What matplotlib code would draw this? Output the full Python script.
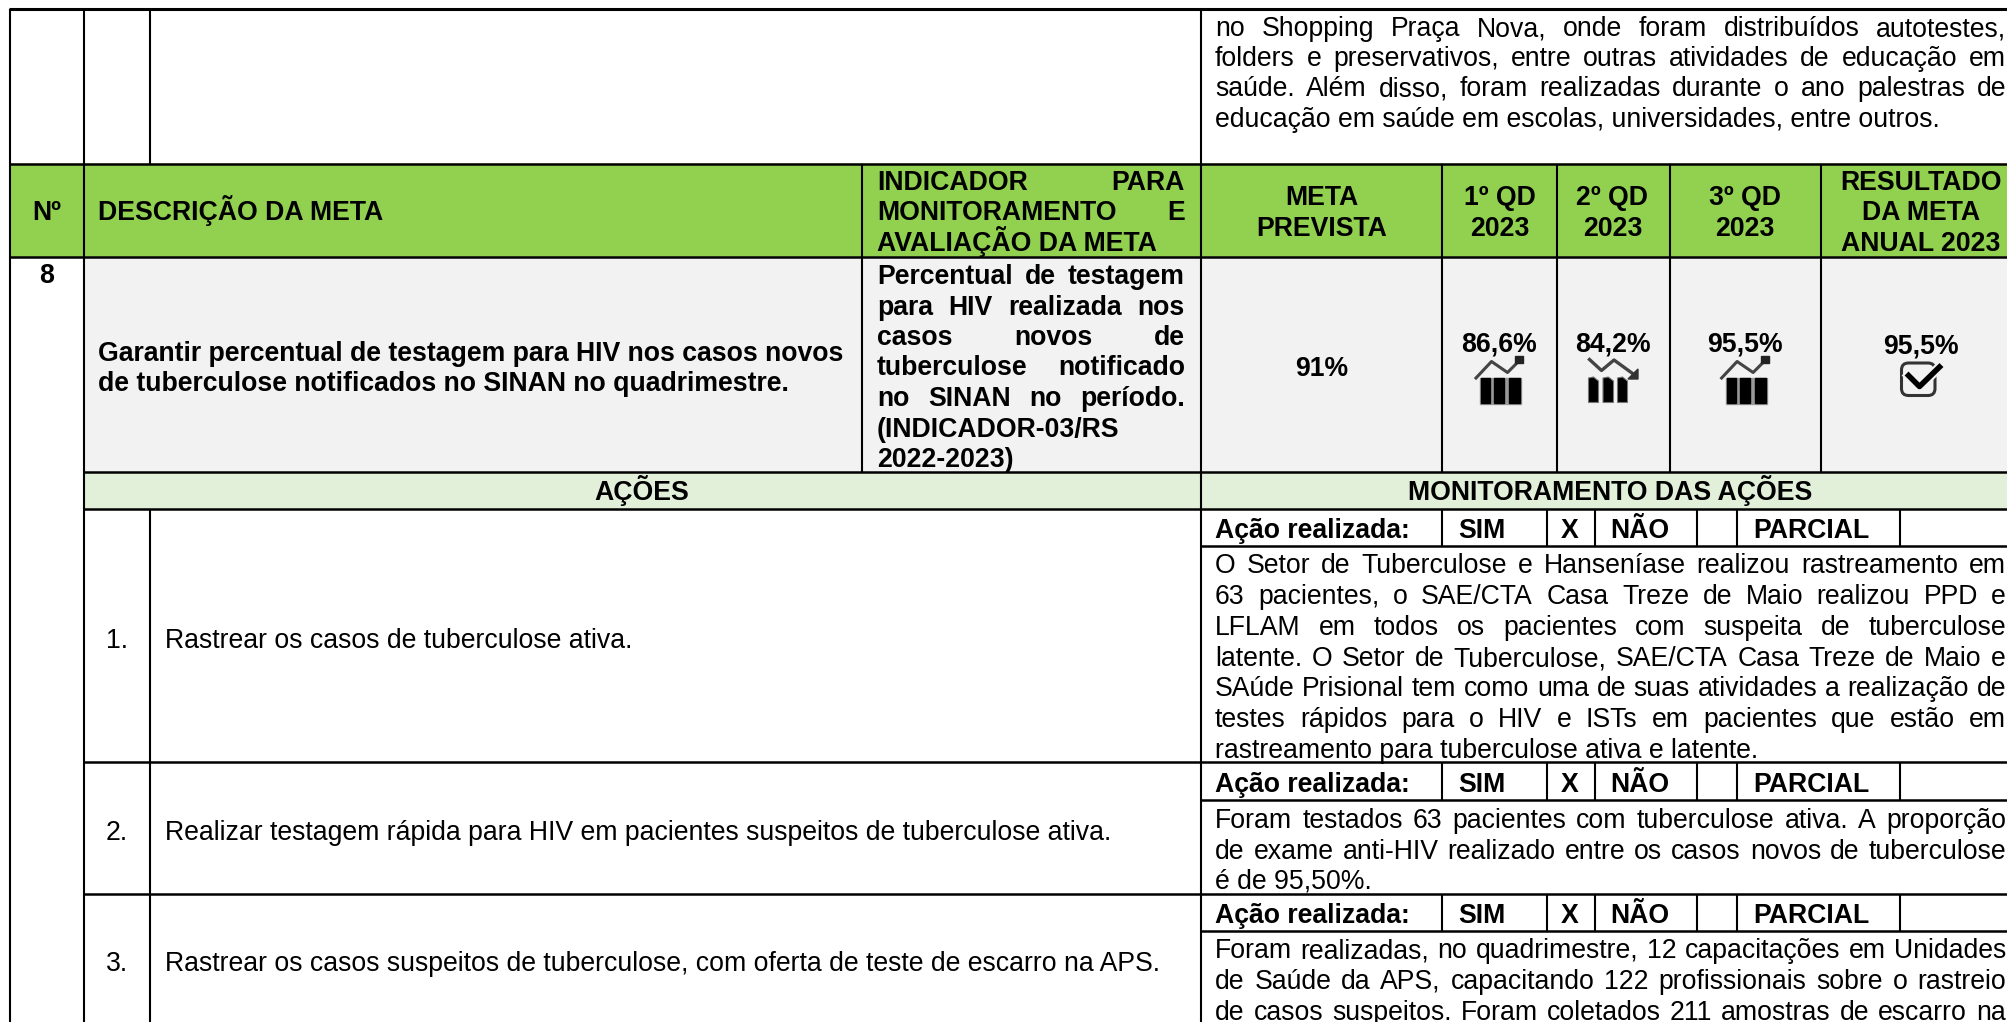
import matplotlib
matplotlib.use('Agg')
import matplotlib.pyplot as plt
from matplotlib.patches import Rectangle, FancyBboxPatch, Polygon

plt.rcParams['font.family'] = ['Liberation Sans', 'DejaVu Sans']

# texts
top_lines = ['no Shopping Praça Nova, onde foram distribuídos autotestes,',
             'folders e preservativos, entre outras atividades de educação em',
             'saúde. Além disso, foram realizadas durante o ano palestras de',
             'educação em saúde em escolas, universidades, entre outros.']
ind_head = ['INDICADOR PARA', 'MONITORAMENTO E', 'AVALIAÇÃO DA META']
ind_body = ['Percentual de testagem', 'para HIV realizada nos', 'casos novos de',
            'tuberculose notificado', 'no SINAN no período.', '(INDICADOR-03/RS', '2022-2023)']
goal_lines = ['Garantir percentual de testagem para HIV nos casos novos',
              'de tuberculose notificados no SINAN no quadrimestre.']
head_cols = [['META', 'PREVISTA'], ['1º QD', '2023'], ['2º QD', '2023'], ['3º QD', '2023'],
             ['RESULTADO', 'DA META', 'ANUAL 2023']]
meta_prevista = '91%'
qd_values = ['86,6%', '84,2%', '95,5%']
resultado = '95,5%'
acao_nums = ['1.', '2.', '3.']
acao_texts = ['Rastrear os casos de tuberculose ativa.',
              'Realizar testagem rápida para HIV em pacientes suspeitos de tuberculose ativa.',
              'Rastrear os casos suspeitos de tuberculose, com oferta de teste de escarro na APS.']
mon_1 = ['O Setor de Tuberculose e Hanseníase realizou rastreamento em',
         '63 pacientes, o SAE/CTA Casa Treze de Maio realizou PPD e',
         'LFLAM em todos os pacientes com suspeita de tuberculose',
         'latente. O Setor de Tuberculose, SAE/CTA Casa Treze de Maio e',
         'SAúde Prisional tem como uma de suas atividades a realização de',
         'testes rápidos para o HIV e ISTs em pacientes que estão em',
         'rastreamento para tuberculose ativa e latente.']
mon_2 = ['Foram testados 63 pacientes com tuberculose ativa. A proporção',
         'de exame anti-HIV realizado entre os casos novos de tuberculose',
         'é de 95,50%.']
mon_3 = ['Foram realizadas, no quadrimestre, 12 capacitações em Unidades',
         'de Saúde da APS, capacitando 122 profissionais sobre o rastreio',
         'de casos suspeitos. Foram coletados 211 amostras de escarro na']

# layout in image pixels
W, H = 2008, 1022
FS = 19.2
GREEN, GRAY, LIGHT = '#92D050', '#F2F2F2', '#E2EFD9'
head_cx = [1321.5, 1499.5, 1612.5, 1745, 1921]

fig = plt.figure(figsize=(W/100, H/100), dpi=100, facecolor='white')
ax = fig.add_axes([0, 0, 1, 1])
ax.set_xlim(0, W)
ax.set_ylim(H, 0)
ax.axis('off')
rend = fig.canvas.get_renderer()


def put(x, y, s, bold=False, ha='left'):
    # y is the middle of the line, text sits on a baseline below it
    return ax.text(x, y+9, s, fontsize=FS, fontweight='bold' if bold else 'normal',
                   ha=ha, va='baseline', color='black', zorder=5)


def justified(x0, x1, y, s, bold=False):
    words = s.split(' ')
    arts = [put(x0, y, w, bold) for w in words]
    widths = [a.get_window_extent(rend).width for a in arts]
    gap = (x1-x0-sum(widths))/(len(words)-1)
    x = x0
    for a, w in zip(arts, widths):
        a.set_x(x)
        x += w+gap


def hline(y, x0, x1, lw=1.8):
    ax.plot([x0, x1], [y, y], color='black', lw=lw, solid_capstyle='butt', zorder=4)


def vline(x, y0, y1, lw=1.5):
    ax.plot([x, x], [y0, y1], color='black', lw=lw, solid_capstyle='butt', zorder=4)


def rise_icon(dx):
    ax.plot([1476+dx, 1491.5+dx, 1507.5+dx, 1520+dx], [378, 361.5, 372.5, 360], color='#444444', lw=2.2, zorder=5)
    ax.add_patch(Rectangle((1515+dx, 356), 8.5, 7, color='#222222', zorder=5))
    ax.add_patch(Rectangle((1480+dx, 378), 41, 26, color='#999999', zorder=4))
    for bx, bw in [(1481, 9.5), (1494.5, 10), (1509.5, 10.5)]:
        ax.add_patch(Rectangle((bx+dx, 378), bw, 25.5, color='black', zorder=5))


def fall_icon():
    ax.plot([1589.5, 1601.5, 1614, 1634], [359.5, 370.5, 360, 374.5], color='#444444', lw=2.4, zorder=5)
    ax.add_patch(Polygon([[1638, 379], [1638, 369], [1628, 379]], color='#333333', zorder=5))
    for bx, bw in [(1588.5, 10), (1603, 10.5), (1617.5, 10)]:
        ax.add_patch(Polygon([[bx, 378], [bx+bw/2, 377], [bx+bw, 381], [bx+bw, 402.5], [bx, 402.5]],
                             fc='black', ec='#777777', lw=0.8, zorder=5))


def check_icon():
    ax.add_patch(FancyBboxPatch((1901.5, 363), 33.5, 32.5, boxstyle='round,pad=0,rounding_size=7',
                                fc='none', ec='#333333', lw=2.2, zorder=5))
    ax.plot([1908.5, 1919.5, 1939.5], [375.5, 386.5, 367], color=GRAY, lw=7, zorder=6)
    ax.plot([1908.5, 1919.5, 1939.5], [375.5, 386.5, 367], color='black', lw=4, zorder=6)


# fills
ax.add_patch(Rectangle((10, 164), W-10, 93, color=GREEN, zorder=1))
ax.add_patch(Rectangle((84, 257), W-84, 215, color=GRAY, zorder=1))
ax.add_patch(Rectangle((84, 472), W-84, 37, color=LIGHT, zorder=1))

# grid
hline(9, 9, W, 2.2)
hline(164, 9, W)
hline(257, 9, W)
hline(472, 84, W)
hline(509, 84, W)
hline(762, 84, W)
hline(894, 84, W)
for y in [546, 800, 931]:
    hline(y, 1201, W)
vline(10, 9, H)
vline(84, 9, H)
vline(150, 9, 164)
vline(150, 509, H)
vline(1201, 9, H)
for x in [862, 1442, 1557, 1670, 1821]:
    vline(x, 164, 472)
for y0, y1 in [(509, 546), (762, 800), (894, 931)]:
    for x in [1442, 1547, 1595, 1697, 1737, 1900]:
        vline(x, y0, y1)

# top paragraph
for y, s in zip([27, 57, 87], top_lines[:3]):
    justified(1215, 2006, y, s)
put(1215, 118, top_lines[3])

# header
put(47, 211, 'Nº', True, 'center')
put(98.5, 211, 'DESCRIÇÃO DA META', True)
justified(877, 1185, 181, ind_head[0], True)
justified(877, 1185, 211, ind_head[1], True)
put(877, 242, ind_head[2], True)
for cx, lines in zip(head_cx, head_cols):
    ys = [196, 227] if len(lines) == 2 else [181, 211, 242]
    for y, s in zip(ys, lines):
        put(cx, y, s, True, 'center')

# goal row
put(47, 274, '8', True, 'center')
put(98.5, 352, goal_lines[0], True)
put(98.5, 382, goal_lines[1], True)
ind_y = [275, 306, 336, 366, 397, 428, 458]
for i, (y, s) in enumerate(zip(ind_y, ind_body)):
    if i < 5:
        justified(877, 1185, y, s, True)
    else:
        put(877, y, s, True)
put(head_cx[0], 367, meta_prevista, True, 'center')
for cx, v in zip(head_cx[1:4], qd_values):
    put(cx, 343, v, True, 'center')
put(head_cx[4], 345, resultado, True, 'center')
rise_icon(0)
fall_icon()
rise_icon(245.6)
check_icon()

# section titles
put(642, 491, 'AÇÕES', True, 'center')
put(1610, 491, 'MONITORAMENTO DAS AÇÕES', True, 'center')

# actions
for y, n, s in zip([638.5, 831, 962], acao_nums, acao_texts):
    put(117, y, n, ha='center')
    put(165, y, s)
for y in [529, 783, 914]:
    put(1215, y, 'Ação realizada:', True)
    put(1458, y, 'SIM', True)
    put(1570, y, 'X', True, 'center')
    put(1610, y, 'NÃO', True)
    put(1753, y, 'PARCIAL', True)

for y, s in zip([564, 595, 626, 657, 687, 718], mon_1[:6]):
    justified(1215, 2006, y, s)
put(1215, 749, mon_1[6])
for y, s in zip([819, 850], mon_2[:2]):
    justified(1215, 2006, y, s)
put(1215, 880, mon_2[2])
for y, s in zip([949, 980, 1011], mon_3):
    justified(1215, 2006, y, s)

fig.savefig('out.png', dpi=100, facecolor='white')
